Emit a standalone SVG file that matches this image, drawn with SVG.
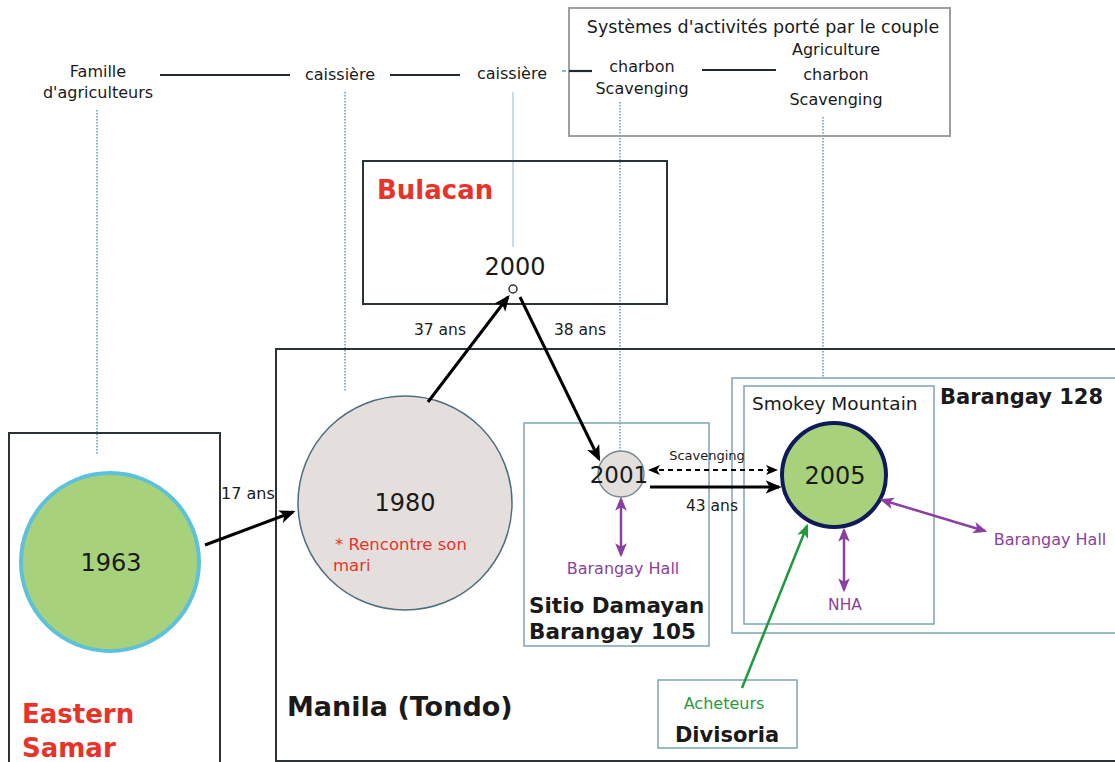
<svg xmlns="http://www.w3.org/2000/svg" width="1115" height="762" viewBox="0 0 1115 762">
<defs>
<style>
text{font-family:"DejaVu Sans","Liberation Sans",sans-serif;fill:#1a1a1a}
.t14{font-size:16px}
.mid{text-anchor:middle}
.yr{font-size:24px}
.red{fill:#e8332a}
.pur{fill:#8b3fa0}
.grn{fill:#2a9a3c}
.b{font-weight:bold}
.dot{stroke:#5b9cc4;stroke-width:1.5;stroke-dasharray:1.5 1.5;fill:none}
.box{fill:none;stroke:#2a3438;stroke-width:2}
.lbox{fill:none;stroke:#7fa3b5;stroke-width:1.5}
.ln{stroke:#1f2a30;stroke-width:2.2}
.arr{stroke:#000;stroke-width:3;fill:none}
</style>
<marker id="ah" viewBox="0 0 12 10" refX="10" refY="5" markerWidth="12" markerHeight="10" markerUnits="userSpaceOnUse" orient="auto-start-reverse">
<path d="M0,0 L12,5 L0,10 L3,5 z" fill="#000"/>
</marker>
<marker id="ahb" viewBox="0 0 12 10" refX="10" refY="5" markerWidth="16" markerHeight="14" markerUnits="userSpaceOnUse" orient="auto-start-reverse">
<path d="M0,0 L12,5 L0,10 L3,5 z" fill="#000"/>
</marker>
<marker id="ap" viewBox="0 0 12 10" refX="10" refY="5" markerWidth="14" markerHeight="12" markerUnits="userSpaceOnUse" orient="auto-start-reverse">
<path d="M0,0 L12,5 L0,10 L3,5 z" fill="#8b3fa0"/>
</marker>
<marker id="ag" viewBox="0 0 12 10" refX="10" refY="5" markerWidth="14" markerHeight="12" markerUnits="userSpaceOnUse" orient="auto">
<path d="M0,0 L12,5 L0,10 L3,5 z" fill="#1e9a3a"/>
</marker>
</defs>
<rect width="1115" height="762" fill="#fff"/>

<g id="guides">
<line class="dot" x1="97" y1="110" x2="97" y2="455"/>
<line class="dot" x1="345" y1="92" x2="345" y2="392"/>
<line x1="513" y1="92" x2="513" y2="247" stroke="#8fbad6" stroke-width="1"/>
<line class="dot" x1="620" y1="102" x2="620" y2="453"/>
<line class="dot" x1="823" y1="117" x2="823" y2="378"/>
</g>

<g id="activites">
<rect x="569" y="8" width="381" height="128" fill="none" stroke="#9aa0a3" stroke-width="2"/>
<text class="mid" x="763" y="33" style="font-size:17.5px">Systèmes d'activités porté par le couple</text>
</g>

<g id="timeline-labels">
<text class="t14 mid" x="98" y="77">Famille</text>
<text class="t14 mid" x="98" y="98">d'agriculteurs</text>
<text class="t14 mid" x="340" y="80">caissière</text>
<text class="t14 mid" x="512" y="79">caissière</text>
<text class="t14 mid" x="642" y="72">charbon</text>
<text class="t14 mid" x="642" y="94">Scavenging</text>
<text class="t14 mid" x="836" y="55">Agriculture</text>
<text class="t14 mid" x="836" y="80">charbon</text>
<text class="t14 mid" x="836" y="105">Scavenging</text>
</g>

<g id="bulacan">
<rect class="box" x="363" y="161" width="304" height="143"/>
<text class="red b" x="377" y="199" style="font-size:26px">Bulacan</text>
<text class="yr mid" x="515" y="275">2000</text>
<circle cx="513" cy="289" r="4" fill="#fff" stroke="#2a3438" stroke-width="1.5"/>
</g>

<g id="manila">
<rect class="box" x="276" y="349" width="840" height="412"/>
<text class="b" x="287" y="716" style="font-size:27px">Manila (Tondo)</text>
</g>

<g id="eastern-samar">
<rect class="box" x="9" y="433" width="211" height="332"/>
<text class="red b" x="22" y="723" style="font-size:26px">Eastern</text>
<text class="red b" x="22" y="757" style="font-size:26px">Samar</text>
</g>

<g id="n1963">
<circle cx="110" cy="562" r="89" fill="#a8d17b" stroke="#5cc2dc" stroke-width="4"/>
<text class="yr mid" x="111" y="571">1963</text>
</g>

<g id="n1980">
<circle cx="405" cy="503" r="107" fill="#e4dfdd" stroke="#4e6f7e" stroke-width="1.5"/>
<text class="yr mid" x="405" y="511">1980</text>
<text class="red" x="335" y="550" style="font-size:16.5px">* Rencontre son</text>
<text class="red" x="333" y="571" style="font-size:16.5px">mari</text>
</g>

<g id="sitio-damayan">
<rect class="lbox" x="524" y="423" width="185" height="223"/>
<text class="b" x="529" y="613" style="font-size:21.5px">Sitio Damayan</text>
<text class="b" x="529" y="639" style="font-size:21.5px">Barangay 105</text>
</g>

<g id="n2001">
<circle cx="621" cy="474" r="23" fill="#e2dfdc" stroke="#7a8a90" stroke-width="1.5"/>
<text class="mid" x="619" y="483" style="font-size:23px">2001</text>
<text class="t14 mid pur" x="623" y="574">Barangay Hall</text>
</g>

<g id="barangay-128">
<rect class="lbox" x="732" y="378" width="384" height="255"/>
<text class="b" x="940" y="404" style="font-size:21px">Barangay 128</text>
</g>

<g id="smokey-mountain">
<rect class="lbox" x="744" y="386" width="190" height="238"/>
<text x="752" y="410" style="font-size:18.5px">Smokey Mountain</text>
</g>

<g id="n2005">
<circle cx="834" cy="475" r="52" fill="#a8d17b" stroke="#0e1a5a" stroke-width="4"/>
<text class="yr mid" x="835" y="484">2005</text>
<text class="mid pur" x="845" y="610" style="font-size:15.5px">NHA</text>
<text class="t14 mid pur" x="1050" y="545">Barangay Hall</text>
</g>

<g id="divisoria">
<rect class="lbox" x="658" y="680" width="139" height="68"/>
<text class="t14 mid grn" x="724" y="709">Acheteurs</text>
<text class="b mid" x="727" y="742" style="font-size:21px">Divisoria</text>
</g>

<g id="connectors">
<line class="ln" x1="160" y1="75" x2="290" y2="75"/>
<line class="ln" x1="390" y1="75" x2="460" y2="75"/>
<line x1="562" y1="71" x2="566" y2="71" stroke="#5b9cc4" stroke-width="1.5"/>
<line class="ln" x1="569" y1="71" x2="592" y2="71"/>
<line class="ln" x1="702" y1="70" x2="776" y2="70"/>
<line class="arr" x1="205" y1="545" x2="293" y2="512" marker-end="url(#ahb)"/>
<text class="t14" x="221" y="499">17 ans</text>
<line class="arr" x1="428" y1="402" x2="508" y2="297" marker-end="url(#ahb)"/>
<text class="mid" x="440" y="335" style="font-size:15.5px">37 ans</text>
<line class="arr" x1="520" y1="297" x2="599" y2="459" marker-end="url(#ahb)"/>
<text class="mid" x="580" y="335" style="font-size:15.5px">38 ans</text>
<line x1="650" y1="470" x2="776" y2="470" stroke="#000" stroke-width="2" stroke-dasharray="5 4" marker-start="url(#ah)" marker-end="url(#ah)"/>
<text class="mid" x="707" y="460" style="font-size:13px">Scavenging</text>
<line class="arr" x1="650" y1="487" x2="779" y2="487" marker-end="url(#ahb)"/>
<text class="mid" x="712" y="511" style="font-size:15.5px">43 ans</text>
<line x1="621" y1="499" x2="621" y2="555" stroke="#8b3fa0" stroke-width="2.5" marker-start="url(#ap)" marker-end="url(#ap)"/>
<line x1="844" y1="530" x2="844" y2="590" stroke="#8b3fa0" stroke-width="2.5" marker-start="url(#ap)" marker-end="url(#ap)"/>
<line x1="882" y1="500" x2="985" y2="531" stroke="#8b3fa0" stroke-width="2.5" marker-start="url(#ap)" marker-end="url(#ap)"/>
<line x1="742" y1="688" x2="807" y2="526" stroke="#1e9a3a" stroke-width="2.5" marker-end="url(#ag)"/>
</g>
</svg>
